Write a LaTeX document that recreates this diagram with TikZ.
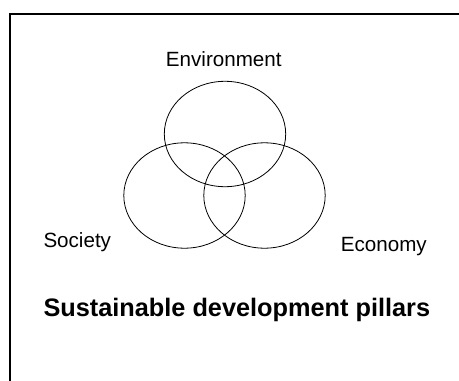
\documentclass[tikz,border=0pt]{standalone}
\usepackage{fontspec}
\setmainfont{Liberation Sans}
\usetikzlibrary{shapes.geometric}
\begin{document}
\begin{tikzpicture}[x=1pt,y=-1pt,
  pillar/.style={ellipse, draw=black, line width=0.8pt, inner sep=0pt,
    minimum width=121.4pt, minimum height=105.4pt},
  lbl/.style={inner sep=0pt, font=\fontsize{20.6pt}{24pt}\selectfont},
  ttl/.style={inner sep=0pt, font=\fontsize{25.3pt}{30pt}\selectfont\bfseries}]
\useasboundingbox (0,0) rectangle (459,381);
\fill[white] (0,0) rectangle (459,381);
\draw[line width=2.2pt] (10,400) |- (480,14);
\node[pillar] (env) at (225,134) {};
\node[pillar] (soc) at (184.5,195.5) {};
\node[pillar] (eco) at (264.5,195.5) {};
\node[lbl, anchor=base] (envl) at (223.8,66) {Environment};
\node[lbl, anchor=base west] (socl) at (43.3,247.3) {Society};
\node[lbl, anchor=base west] (ecol) at (340.7,251) {Economy};
\node[ttl, anchor=base west] (title) at (43.3,316.7) {Sustainable development pillars};
\end{tikzpicture}
\end{document}
